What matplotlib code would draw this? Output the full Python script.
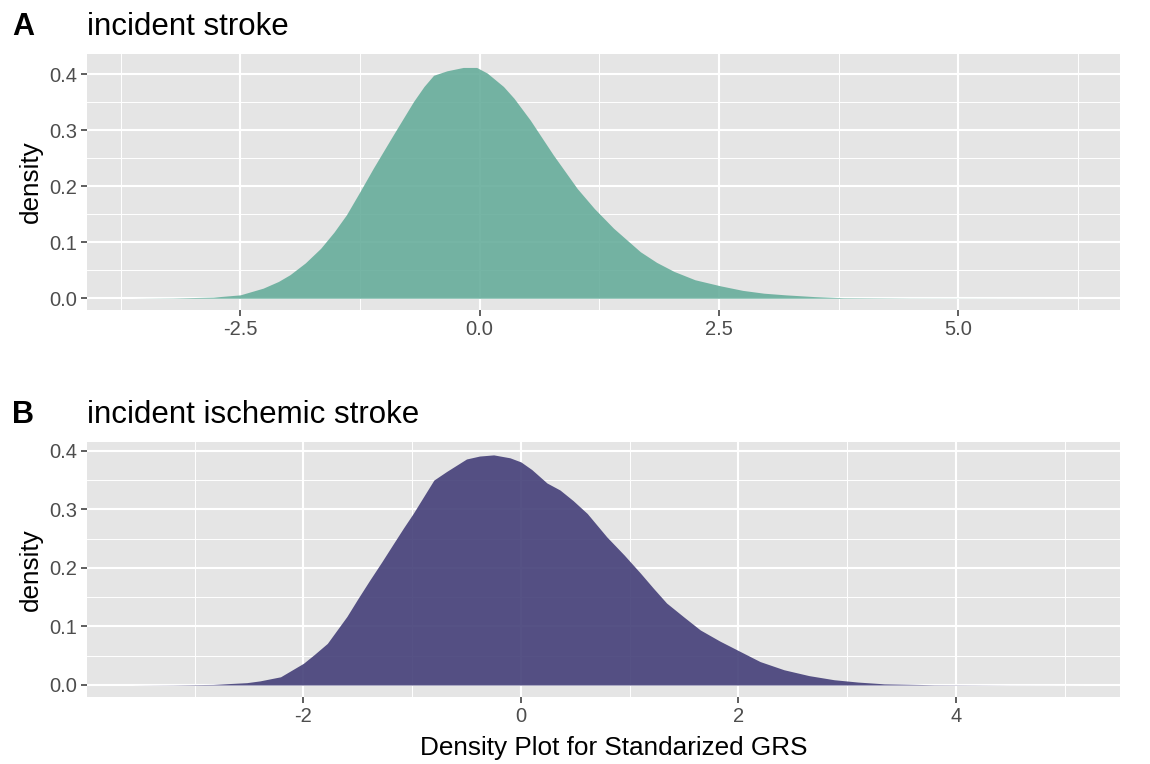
import matplotlib
matplotlib.use("Agg")
import matplotlib.pyplot as plt
import numpy as np

plt.rcParams['font.family'] = ['Liberation Sans', 'DejaVu Sans']

# --- Panel A: incident stroke (density) ---
x_stroke = [-3.62, -3.2, -2.78, -2.5, -2.26, -2.1, -1.98, -1.82, -1.66, -1.52,
            -1.39, -1.25, -1.11, -0.90, -0.69, -0.58, -0.48, -0.34, -0.17, -0.03,
            0.08, 0.25, 0.36, 0.53, 0.77, 1.02, 1.2, 1.40, 1.68, 1.85,
            2.03, 2.25, 2.52, 2.75, 2.97, 3.2, 3.49, 3.8, 4.5, 5.5, 6.30]
dens_stroke = [0.0, 0.0005, 0.002, 0.006, 0.018, 0.030, 0.042, 0.063, 0.089, 0.118,
               0.149, 0.190, 0.232, 0.292, 0.351, 0.378, 0.398, 0.406, 0.412, 0.412,
               0.402, 0.378, 0.357, 0.318, 0.256, 0.196, 0.160, 0.125, 0.083, 0.064,
               0.048, 0.033, 0.022, 0.014, 0.009, 0.006, 0.003, 0.001, 0.0003, 0.0001, 0.0]

# --- Panel B: incident ischemic stroke ---
x_isch = [-3.57, -3.2, -2.83, -2.52, -2.4, -2.21, -2.0, -1.9, -1.78, -1.60,
          -1.5, -1.39, -1.28, -1.17, -1.08, -0.99, -0.80, -0.68, -0.50, -0.38,
          -0.25, -0.10, 0.0, 0.10, 0.24, 0.36, 0.48, 0.61, 0.79, 0.95,
          1.10, 1.22, 1.34, 1.5, 1.65, 1.83, 2.02, 2.2, 2.42, 2.65,
          2.88, 3.1, 3.34, 3.8, 4.5, 5.17]
dens_isch = [0.0, 0.0003, 0.001, 0.004, 0.007, 0.014, 0.037, 0.052, 0.071, 0.117,
             0.147, 0.179, 0.210, 0.242, 0.268, 0.293, 0.350, 0.365, 0.386, 0.391,
             0.393, 0.388, 0.381, 0.368, 0.345, 0.333, 0.315, 0.293, 0.253, 0.222,
             0.191, 0.165, 0.140, 0.116, 0.094, 0.075, 0.057, 0.040, 0.026, 0.016,
             0.009, 0.005, 0.002, 0.0005, 0.0001, 0.0]

xticks_a = [-2.5, 0.0, 2.5, 5.0]
xticks_b = [-2, 0, 2, 4]
yticks = [0.0, 0.1, 0.2, 0.3, 0.4]


def gg_axes(ax, xticks, xlabels, xlim, ylim):
    ax.set_facecolor('#e5e5e5')
    for s in ax.spines.values():
        s.set_visible(False)
    ax.set_xlim(*xlim)
    ax.set_ylim(*ylim)
    ax.set_xticks(xticks)
    ax.set_xticklabels(xlabels)
    step = xticks[1] - xticks[0]
    minors = np.arange(xticks[0] - step * 1.5, xlim[1], step)
    ax.set_xticks([m for m in minors if xlim[0] < m < xlim[1]], minor=True)
    ax.set_yticks(yticks)
    ax.set_yticklabels(['0.0', '0.1', '0.2', '0.3', '0.4'])
    ax.set_yticks([0.05, 0.15, 0.25, 0.35], minor=True)
    ax.grid(True, which='major', color='white', linewidth=1.5)
    ax.grid(True, which='minor', color='white', linewidth=0.7)
    ax.set_axisbelow(True)
    ax.tick_params(which='major', length=4, width=1.1, color='#333333',
                   labelcolor='#4d4d4d', labelsize=14.5, pad=3)
    ax.tick_params(which='minor', length=0)


fig = plt.figure(figsize=(11.5, 7.64), dpi=100)

W, H = 1150, 764
axA = fig.add_axes([87 / W, 1 - 310 / H, (1120 - 87) / W, (310 - 54) / H])
axB = fig.add_axes([87 / W, 1 - 697 / H, (1120 - 87) / W, (697 - 442) / H])

gg_axes(axA, xticks_a, ['-2.5', '0.0', '2.5', '5.0'], (-4.10, 6.69), (-0.021, 0.436))
gg_axes(axB, xticks_b, ['-2', '0', '2', '4'], (-3.99, 5.51), (-0.0205, 0.415))

axA.fill_between(x_stroke, dens_stroke, 0, color='#67ad9b', alpha=0.9, linewidth=0)
axB.fill_between(x_isch, dens_isch, 0, color='#443f78', alpha=0.9, linewidth=0)

# titles and panel tags
fig.text(12 / W, 1 - 35 / H, 'A', fontsize=22, fontweight='bold', va='baseline')
fig.text(87 / W, 1 - 35 / H, 'incident stroke', fontsize=22.5, va='baseline')
fig.text(12 / W, 1 - 423 / H, 'B', fontsize=22, fontweight='bold', va='baseline')
fig.text(87 / W, 1 - 423 / H, 'incident ischemic stroke', fontsize=22.5, va='baseline')

fig.text(31 / W, 1 - 182 / H, 'density', fontsize=18.8, rotation=90, ha='center', va='center')
fig.text(31 / W, 1 - 570 / H, 'density', fontsize=18.8, rotation=90, ha='center', va='center')
fig.text(614 / W, 1 - 755 / H, 'Density Plot for Standarized GRS', fontsize=18.8,
         ha='center', va='baseline')

plt.savefig('out.png', dpi=100)
